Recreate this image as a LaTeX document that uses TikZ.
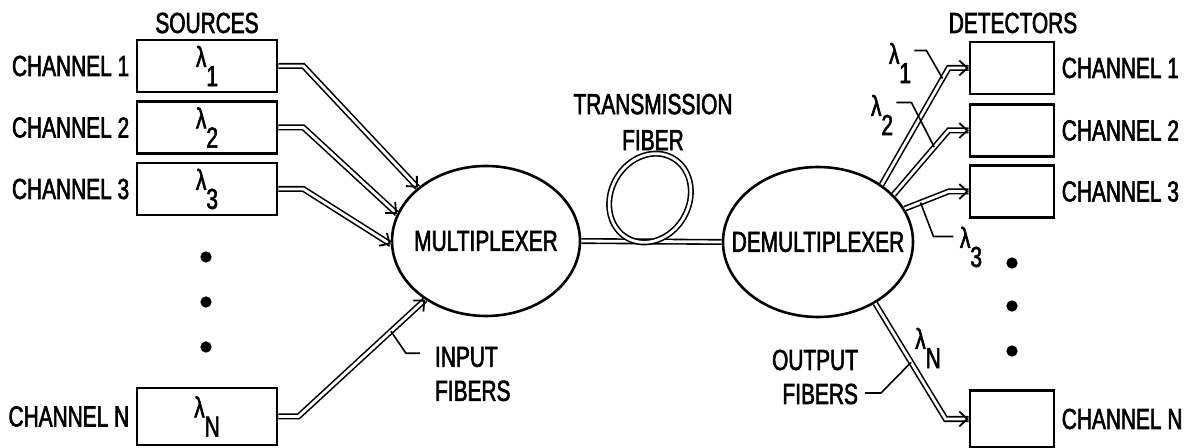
\documentclass[tikz,border=0pt]{standalone}
\usepackage{fontspec}
\usepackage{tikz}
\usetikzlibrary{calc,arrows.meta,shapes.geometric}
\newfontfamily\labfont[FakeStretch=0.72,FakeBold=2]{Liberation Sans}
\newcommand\wl[1]{λ\raisebox{-0.66em}{#1}}
\tikzset{
  box/.style={draw, line width=1.4pt, minimum width=70pt, minimum height=26pt, inner sep=0pt},
  dbox/.style={box, minimum width=42pt},
  unit/.style={draw, ellipse, line width=1.3pt, minimum width=94pt, minimum height=75pt, inner sep=0pt},
  fiber/.style={draw, double, double distance=1.4pt, line width=0.8pt},
  tip/.style={draw, line width=0.9pt, -{Straight Barb[length=4pt,width=7.5pt]}},
  lead/.style={draw, line width=0.8pt},
  dot/.style={circle, fill, inner sep=2pt},
  lab/.style={inner sep=3pt},
}

\begin{document}
\begin{tikzpicture}[x=0.5pt,y=-0.5pt,font=\labfont\fontsize{14.5}{17}\selectfont]
  \useasboundingbox (0,0) rectangle (1188,448);

  % sources
  \node (srchead) at (207,23) {SOURCES};
  \node[box,label={[lab]left:CHANNEL 1}] (src1) at (207,66) {\wl{1}};
  \node[box,label={[lab]left:CHANNEL 2}] (src2) at (207,127.5) {\wl{2}};
  \node[box,label={[lab]left:CHANNEL 3}] (src3) at (207,189) {\wl{3}};
  \node[box,minimum height=28.5pt,label={[lab]left:CHANNEL N}] (srcN) at (207,416.5) {\wl{N}};
  \foreach \y in {257,302,347} \node[dot] at (206,\y) {};

  % detectors
  \node (dethead) at (1013,23) {DETECTORS};
  \node[dbox,label={[lab]right:CHANNEL 1}] (det1) at (1012,68) {};
  \node[dbox,label={[lab]right:CHANNEL 2}] (det2) at (1012,130.5) {};
  \node[dbox,label={[lab]right:CHANNEL 3}] (det3) at (1012,191.5) {};
  \node[dbox,minimum height=28.5pt,label={[lab]right:CHANNEL N}] (detN) at (1012,419) {};
  \foreach \y in {263,306,351} \node[dot] at (1012,\y) {};

  % mux / demux
  \node[unit,label={center:MULTIPLEXER}] (mux) at (486,241) {};
  \node[unit,minimum width=95pt,label={center:DEMULTIPLEXER}] (demux) at (818,242) {};

  % transmission fiber with loop
  \draw[fiber] (mux.east) -- (demux.west);
  \draw[fiber] (650,198) ellipse [x radius=39, y radius=46, rotate=-30];
  \node[align=center] (txlab) at (653,122) {TRANSMISSION\\[1pt]FIBER};

  % input fibers
  \coordinate (s1) at ([xshift=12.5pt]src1.east);
  \coordinate (s2) at ([xshift=12.5pt]src2.east);
  \coordinate (s3) at ([xshift=12.5pt]src3.east);
  \coordinate (sN) at ([xshift=10pt]srcN.east);
  \draw[fiber] (src1.east) -- (s1) -- (mux.142);
  \draw[fiber] (src2.east) -- (s2) -- (mux.163);
  \draw[fiber] (src3.east) -- (s3) -- (mux.182);
  \draw[fiber] (srcN.east) -- (sN) -- (mux.224);
  \draw[tip] ($(mux.142)!1pt!(s1)$) -- (mux.142);
  \draw[tip] ($(mux.163)!1pt!(s2)$) -- (mux.163);
  \draw[tip] ($(mux.182)!1pt!(s3)$) -- (mux.182);
  \draw[tip] ($(mux.224)!1pt!(sN)$) -- (mux.224);

  % output fibers
  \coordinate (k1) at ([xshift=-10pt]det1.west);
  \coordinate (k2) at ([xshift=-10pt]det2.west);
  \coordinate (k3) at ([xshift=-10pt]det3.west);
  \coordinate (kN) at ([xshift=-11.5pt]detN.west);
  \draw[fiber] (demux.42) -- (k1) -- (det1.west);
  \draw[fiber] (demux.32) -- (k2) -- (det2.west);
  \draw[fiber] (demux.21) -- (k3) -- (det3.west);
  \draw[fiber] (demux.313) -- (kN) -- (detN.west);
  \foreach \d in {1,2,3,N}
    \draw[tip] ([xshift=-1pt]det\d.west) -- (det\d.west);

  % wavelength labels
  \node[inner sep=0pt] (l1) at (900,63) {\wl{1}};
  \node[inner sep=0pt] (l2) at (882,115) {\wl{2}};
  \node[inner sep=0pt] (l3) at (971,247) {\wl{3}};
  \node[inner sep=0pt] (lN) at (928,348) {\wl{N}};
  \draw[lead] (l1.north east) ++(3,8) -- ++(12,0) -- ($(demux.42)!0.91!(k1)$);
  \draw[lead] (l2.north east) ++(3,8) -- ++(15,0) -- ($(demux.32)!0.74!(k2)$);
  \draw[lead] ($(demux.21)!0.36!(k3)$) -- ++(13,34) -- ++(20,0);

  % fiber labels
  \node[align=left,anchor=west] (inlab) at (428,374) {INPUT\\FIBERS};
  \draw[lead] ($(sN)!0.73!(mux.224)$) -- ++(15,22) -- ++(14,0);
  \node[align=right,anchor=east] (outlab) at (865,377) {OUTPUT\\FIBERS};
  \draw[lead] ([yshift=-8pt]outlab.east) -- ++(16,0) -- ($(demux.313)!0.51!(kN)$);
\end{tikzpicture}
\end{document}
